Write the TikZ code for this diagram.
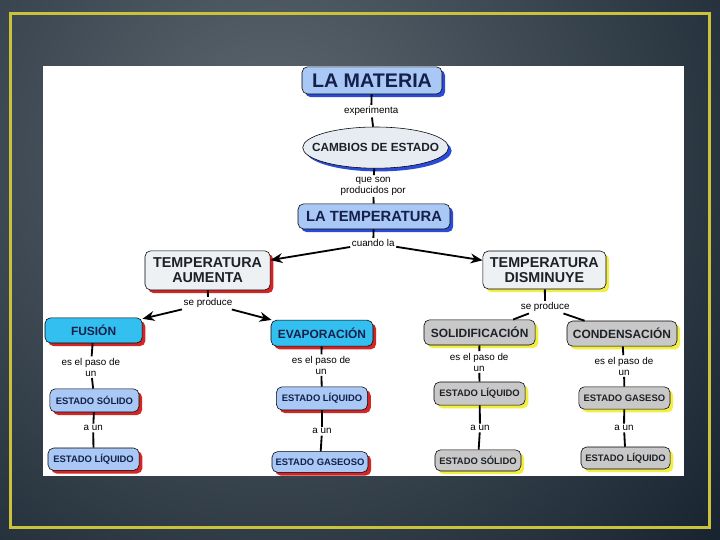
\documentclass[tikz,border=0pt]{standalone}
\usepackage{fontspec}
\setmainfont{Liberation Sans}
\usepackage{tikz}
\usetikzlibrary{positioning, shapes.geometric, arrows.meta, shadows}

\definecolor{bglight}{HTML}{5E6971}
\definecolor{bgdark}{HTML}{14202C}
\definecolor{framey}{HTML}{C9C23A}
\definecolor{lightblue}{HTML}{A9C8F5}
\definecolor{cyanbox}{HTML}{33C0F0}
\definecolor{greybox}{HTML}{C8C8C8}
\definecolor{palebox}{HTML}{EDF1F3}
\definecolor{ovalfill}{HTML}{E6ECF2}
\definecolor{shblue}{HTML}{2A4BD8}
\definecolor{shred}{HTML}{D42424}
\definecolor{shyellow}{HTML}{F2EE44}
\definecolor{navy}{HTML}{14204A}
\definecolor{darkink}{HTML}{1E2226}

\tikzset{
  concept/.style={draw, rounded corners=4pt, inner sep=1pt, align=center, text=navy},
  blueshade/.style={drop shadow={shadow xshift=0.08cm, shadow yshift=-0.08cm, fill=shblue, opacity=1}},
  redshade/.style={drop shadow={shadow xshift=0.08cm, shadow yshift=-0.08cm, fill=shred, opacity=1}},
  yellowshade/.style={drop shadow={shadow xshift=0.08cm, shadow yshift=-0.08cm, fill=shyellow, opacity=1}},
  linkword/.style={fill=white, inner sep=1pt, align=center, font=\fontsize{7}{7.8}\selectfont},
  link/.style={line width=1.3pt},
  arrowlink/.style={link, -{Stealth[length=8.5pt, width=7pt]}}
}

\newcommand{\midfont}{\bfseries\fontsize{8.5}{9}\selectfont}
\newcommand{\smallfont}{\bfseries\fontsize{6.7}{7}\selectfont}

\begin{document}
\begin{tikzpicture}

% slide background
\begin{scope}
\clip (0,0) rectangle (18,-13.5);
\fill[bgdark] (0,0) rectangle (18,-13.5);
\shade[inner color=bglight, outer color=bgdark] (6.8,-3.8) circle (15.5);
\end{scope}
\draw[framey, line width=2.2pt] (0.26,-0.34) rectangle (17.73,-13.18);
\fill[white] (1.075,-1.65) rectangle (17.1,-11.9);

% top of the map
\node[concept, fill=lightblue, blueshade, minimum width=3.5cm, minimum height=0.68cm, font=\bfseries\fontsize{14}{15}\selectfont] (materia) at (9.30,-2.01) {LA MATERIA};
\node[linkword] (experimenta) at (9.28,-2.78) {experimenta};
\node[draw, ellipse, fill=ovalfill, blueshade, inner xsep=-0.3cm, inner ysep=0pt, minimum width=3.63cm, minimum height=1.03cm, text=darkink, font=\bfseries\fontsize{8.4}{9}\selectfont] (cambios) at (9.39,-3.69) {CAMBIOS DE ESTADO};
\node[linkword] (producidos) at (9.33,-4.65) {que son\\producidos por};
\node[concept, fill=lightblue, blueshade, minimum width=3.8cm, minimum height=0.63cm, font=\bfseries\fontsize{10.5}{11}\selectfont] (temperatura) at (9.35,-5.41) {LA TEMPERATURA};
\node[linkword] (cuando) at (9.33,-6.08) {cuando la};

% two branches
\node[concept, fill=palebox, redshade, text=darkink, minimum width=3.13cm, minimum height=0.98cm, font=\bfseries\fontsize{10.2}{10.6}\selectfont] (aumenta) at (5.19,-6.76) {TEMPERATURA\\AUMENTA};
\node[concept, fill=palebox, yellowshade, text=darkink, minimum width=3.08cm, minimum height=0.95cm, font=\bfseries\fontsize{10.2}{10.6}\selectfont] (disminuye) at (13.61,-6.75) {TEMPERATURA\\DISMINUYE};
\node[linkword] (produceA) at (5.20,-7.58) {se produce};
\node[linkword] (produceD) at (13.63,-7.68) {se produce};

% changes of state
\node[concept, fill=cyanbox, redshade, minimum width=2.43cm, minimum height=0.63cm, font=\midfont] (fusion) at (2.34,-8.26) {FUSIÓN};
\node[concept, fill=cyanbox, redshade, minimum width=2.55cm, minimum height=0.65cm, font=\midfont] (evaporacion) at (8.05,-8.33) {EVAPORACIÓN};
\node[concept, fill=greybox, yellowshade, text=darkink, minimum width=2.78cm, minimum height=0.63cm, font=\midfont] (solidif) at (11.99,-8.31) {SOLIDIFICACIÓN};
\node[concept, fill=greybox, yellowshade, text=darkink, minimum width=2.75cm, minimum height=0.63cm, font=\midfont] (condens) at (15.55,-8.34) {CONDENSACIÓN};

\node[linkword] (pasoF) at (2.27,-9.18) {es el paso de\\un};
\node[linkword] (pasoE) at (8.03,-9.13) {es el paso de\\un};
\node[linkword] (pasoS) at (11.98,-9.05) {es el paso de\\un};
\node[linkword] (pasoC) at (15.60,-9.15) {es el paso de\\un};

% states
\node[concept, fill=lightblue, redshade, minimum width=2.23cm, minimum height=0.58cm, font=\smallfont] (solidoF) at (2.36,-10.01) {ESTADO SÓLIDO};
\node[concept, fill=lightblue, redshade, minimum width=2.28cm, minimum height=0.58cm, font=\smallfont] (liquidoE) at (8.05,-9.96) {ESTADO LÍQUIDO};
\node[concept, fill=greybox, yellowshade, text=darkink, minimum width=2.28cm, minimum height=0.58cm, font=\smallfont] (liquidoS) at (11.99,-9.84) {ESTADO LÍQUIDO};
\node[concept, fill=greybox, yellowshade, text=darkink, minimum width=2.28cm, minimum height=0.56cm, font=\smallfont] (gasesoC) at (15.61,-9.95) {ESTADO GASESO};

\node[linkword] (aunF) at (2.33,-10.70) {a un};
\node[linkword] (aunE) at (8.05,-10.78) {a un};
\node[linkword] (aunS) at (12.00,-10.70) {a un};
\node[linkword] (aunC) at (15.60,-10.70) {a un};

\node[concept, fill=lightblue, redshade, minimum width=2.28cm, minimum height=0.56cm, font=\smallfont] (liquidoF) at (2.34,-11.48) {ESTADO LÍQUIDO};
\node[concept, fill=lightblue, redshade, minimum width=2.4cm, minimum height=0.52cm, font=\smallfont] (gaseosoE) at (8.00,-11.55) {ESTADO GASEOSO};
\node[concept, fill=greybox, yellowshade, text=darkink, minimum width=2.15cm, minimum height=0.53cm, font=\smallfont] (solidoS) at (11.95,-11.51) {ESTADO SÓLIDO};
\node[concept, fill=greybox, yellowshade, text=darkink, minimum width=2.23cm, minimum height=0.55cm, font=\smallfont] (liquidoC) at (15.64,-11.45) {ESTADO LÍQUIDO};

% connectors
\draw[link] (materia) -- (experimenta);
\draw[link] (experimenta) -- (cambios);
\draw[link] (cambios) -- (producidos);
\draw[link] (producidos) -- (temperatura);
\draw[link] (temperatura) -- (cuando);
\draw[arrowlink] (cuando) -- (aumenta);
\draw[arrowlink] (cuando) -- (disminuye);

\draw[link] (aumenta) -- (produceA);
\draw[arrowlink] (produceA) -- (fusion);
\draw[arrowlink] (produceA) -- (evaporacion);
\draw[link] (disminuye) -- (produceD);
\draw[link] (produceD) -- (solidif);
\draw[link] (produceD) -- (condens);

\draw[link] (fusion) -- (pasoF);
\draw[link] (pasoF) -- (solidoF);
\draw[link] (solidoF) -- (aunF);
\draw[link] (aunF) -- (liquidoF);

\draw[link] (evaporacion) -- (pasoE);
\draw[link] (pasoE) -- (liquidoE);
\draw[link] (liquidoE) -- (aunE);
\draw[link] (aunE) -- (gaseosoE);

\draw[link] (solidif) -- (pasoS);
\draw[link] (pasoS) -- (liquidoS);
\draw[link] (liquidoS) -- (aunS);
\draw[link] (aunS) -- (solidoS);

\draw[link] (condens) -- (pasoC);
\draw[link] (pasoC) -- (gasesoC);
\draw[link] (gasesoC) -- (aunC);
\draw[link] (aunC) -- (liquidoC);

\end{tikzpicture}
\end{document}
